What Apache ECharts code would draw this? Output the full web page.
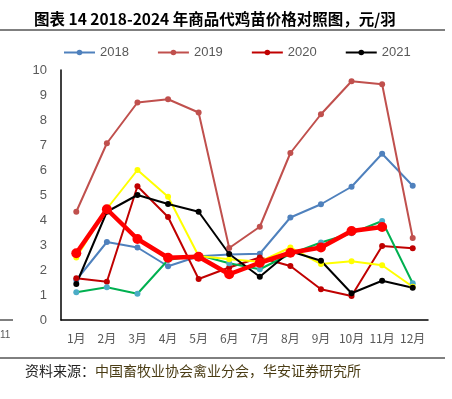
<!DOCTYPE html>
<html><head><meta charset="utf-8">
<script src="https://cdn.jsdelivr.net/npm/echarts@6/dist/echarts.min.js"></script>
<style>html,body{margin:0;padding:0;background:#fff}#c{width:452px;height:399px}</style>
</head><body><div id="c"></div>
<script>
var months = ['1月','2月','3月','4月','5月','6月','7月','8月','9月','10月','11月','12月'];
var yTicks = [0,1,2,3,4,5,6,7,8,9,10];
var s2018 = [1.6, 3.12, 2.9, 2.15, 2.55, 2.62, 2.65, 4.1, 4.63, 5.33, 6.65, 5.37];
var s2019 = [4.33, 7.07, 8.7, 8.83, 8.3, 2.88, 3.73, 6.68, 8.23, 9.55, 9.43, 3.28];
var s2020 = [1.67, 1.53, 5.35, 4.12, 1.64, 2.1, 2.5, 2.16, 1.23, 0.96, 2.96, 2.87];
var s2021 = [1.44, 4.33, 5.0, 4.64, 4.33, 2.64, 1.73, 2.75, 2.37, 1.07, 1.57, 1.29];
var s2022 = [1.11, 1.31, 1.05, 2.4, 2.6, 2.27, 2.03, 2.64, 3.1, 3.47, 3.96, 1.47];
var s2023 = [2.5, 4.45, 6.0, 4.93, 2.56, 2.43, 2.33, 2.9, 2.24, 2.35, 2.19, 1.33];
var s2024 = [2.67, 4.43, 3.24, 2.49, 2.53, 1.83, 2.29, 2.69, 2.9, 3.56, 3.72];

function ser(name, data, lineColor, markColor, width, size) {
  return {
    name: name, type: 'line', data: data,
    symbol: 'circle', symbolSize: size,
    lineStyle: {color: lineColor, width: width},
    itemStyle: {color: markColor, borderWidth: 0},
    emphasis: {disabled: true}, animation: false
  };
}

var chart = echarts.init(document.getElementById('c'));
chart.setOption({
  animation: false,
  title: {
    text: '图表 14 2018-2024 年商品代鸡苗价格对照图，元/羽',
    left: 29, top: 6,
    textStyle: {fontSize: 15.5, fontWeight: 'bold', color: '#000', fontFamily: 'Noto Sans CJK SC'}
  },
  legend: {
    data: ['2018','2019','2020','2021'],
    left: 58, top: 41, itemGap: 28, itemWidth: 31, itemHeight: 7,
    textStyle: {fontSize: 13, color: '#595959', fontFamily: 'Liberation Sans'}
  },
  grid: {left: 61, right: 24, top: 70, bottom: 79, containLabel: false},
  xAxis: {
    type: 'category', data: months, boundaryGap: true,
    axisLine: {lineStyle: {color: '#000', width: 1.5}},
    axisTick: {show: false},
    axisLabel: {color: '#595959', fontSize: 12, margin: 12, interval: 0, fontFamily: 'Noto Sans CJK SC'}
  },
  yAxis: {
    type: 'value', min: 0, max: 10, interval: 1,
    axisLine: {show: true, lineStyle: {color: '#000', width: 1.5}},
    axisTick: {show: false},
    splitLine: {show: false},
    axisLabel: {color: '#595959', fontSize: 13, margin: 14, fontFamily: 'Liberation Sans',
      formatter: function(v){ return yTicks.indexOf(v) >= 0 ? String(v) : ''; }}
  },
  graphic: [
    {type: 'line', shape: {x1: 0, y1: 30, x2: 445, y2: 30}, style: {stroke: '#000', lineWidth: 1}},
    {type: 'line', shape: {x1: 0, y1: 358, x2: 445, y2: 358}, style: {stroke: '#000', lineWidth: 1}},
    {type: 'line', shape: {x1: 0, y1: 320, x2: 13, y2: 320}, style: {stroke: '#000', lineWidth: 1}},
    {type: 'text', left: 0, top: 330, style: {text: '11', fontSize: 10, fill: '#595959', fontFamily: 'Liberation Sans'}},
    {type: 'text', left: 25, top: 364, style: {
      text: '{a|资料来源：}{b|中国畜牧业协会禽业分会，华安证券研究所}',
      rich: {a: {fontSize: 14, fill: '#222', fontFamily: 'Noto Sans CJK SC'},
             b: {fontSize: 14, fill: '#4a3c14', fontFamily: 'Noto Sans CJK SC'}}
    }}
  ],
  series: [
    ser('2018', s2018, '#4f81bd', '#4f81bd', 2, 6),
    ser('2019', s2019, '#c0504d', '#c0504d', 2, 6),
    ser('2020', s2020, '#c00000', '#c00000', 2, 6),
    ser('2022', s2022, '#00b050', '#4bacc6', 2, 6),
    ser('2023', s2023, '#ffff00', '#ffff00', 2, 6),
    ser('2021', s2021, '#000000', '#000000', 2, 6),
    ser('2024', s2024, '#ff0000', '#ff0000', 4.5, 10)
  ]
});
</script></body></html>
